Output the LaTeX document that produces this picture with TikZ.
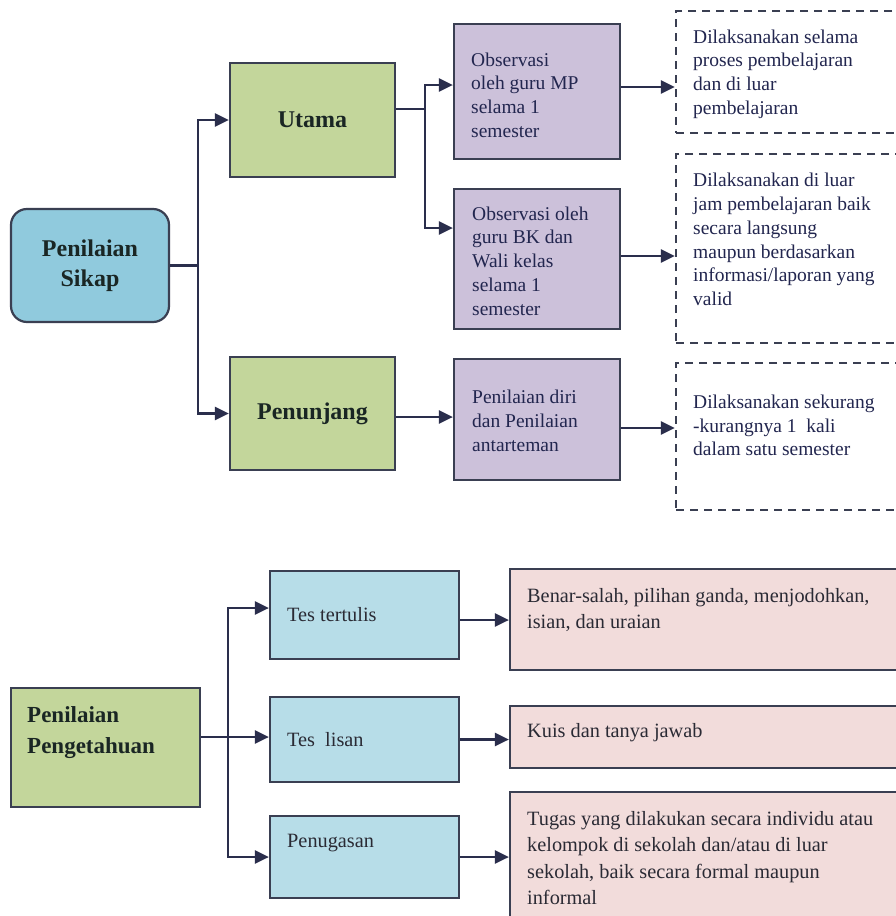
\documentclass[tikz,border=0pt]{standalone}
\usepackage{fontspec}
\setmainfont{Liberation Serif}
\usetikzlibrary{arrows.meta}
\definecolor{sikapblue}{HTML}{90CADD}
\definecolor{boxgreen}{HTML}{C3D69B}
\definecolor{boxpurple}{HTML}{CCC1DA}
\definecolor{boxcyan}{HTML}{B7DDE8}
\definecolor{boxpink}{HTML}{F2DCDB}
\definecolor{edgecol}{HTML}{3A3F52}
\definecolor{wirecol}{HTML}{2A2E4C}
\definecolor{navytext}{HTML}{22264F}
\definecolor{darktext}{HTML}{1A2624}
\definecolor{graytext}{HTML}{2A2A34}
\begin{document}
\begin{tikzpicture}[x=1pt,y=-1pt,
  box/.style={draw=edgecol, line width=2.2pt, inner sep=0pt},
  dbox/.style={draw=edgecol, line width=2.4pt, dash pattern=on 8pt off 6pt, inner sep=0pt},
  boldlbl/.style={font=\fontsize{24}{30}\selectfont\bfseries, text=darktext, align=center},
  toptext/.style={font=\fontsize{19.5}{23.7}\selectfont, text=navytext, align=left, inner sep=0pt, anchor=west},
  bottext/.style={font=\fontsize{20.3}{26.5}\selectfont, text=graytext, align=left, inner sep=0pt, anchor=west},
  arr/.style={draw=wirecol, line width=2.5pt, -{Triangle[length=14pt,width=13pt]}}
]
\useasboundingbox (0,0) rectangle (896,916);
\fill[white] (0,0) rectangle (896,916);

% ---------- top part ----------
\node[box, fill=sikapblue, rounded corners=16pt, minimum width=158pt, minimum height=113pt, boldlbl] (sikap) at (90,265.5) {Penilaian\\Sikap};
\node[box, fill=boxgreen, minimum width=165pt, minimum height=114pt, boldlbl] (utama) at (312.5,120) {Utama};
\node[box, fill=boxgreen, minimum width=165pt, minimum height=113pt, boldlbl] (penunjang) at (312.5,413.5) {Penunjang};

\node[box, fill=boxpurple, minimum width=166pt, minimum height=135pt] (obsmp) at (537,91.5) {};
\node[box, fill=boxpurple, minimum width=166pt, minimum height=140pt] (obsbk) at (537,259) {};
\node[box, fill=boxpurple, minimum width=166pt, minimum height=121pt] (diri) at (537,419.5) {};

\node[toptext] (tmp) at (471,95) {Observasi\\oleh guru MP\\selama 1\\semester};
\node[toptext] (tbk) at (472,261) {Observasi oleh\\guru BK dan\\Wali kelas\\selama 1\\semester};
\node[toptext] (tdiri) at (472,421) {Penilaian diri\\dan Penilaian\\antarteman};

\node[dbox, minimum width=229pt, minimum height=122pt] (d1) at (790.5,72) {};
\node[dbox, minimum width=229pt, minimum height=189pt] (d2) at (790.5,248.5) {};
\node[dbox, minimum width=229pt, minimum height=147pt] (d3) at (790.5,436.5) {};

\node[toptext] (td1) at (693,74) {Dilaksanakan selama\\proses pembelajaran\\dan di luar\\pembelajaran};
\node[toptext] (td2) at (693,239.5) {Dilaksanakan di luar\\jam pembelajaran baik\\secara langsung\\maupun berdasarkan\\informasi/laporan yang\\valid};
\node[toptext] (td3) at (693,425.5) {Dilaksanakan sekurang\\-kurangnya 1~ kali\\dalam satu semester};

\draw[arr] (sikap.east) -- ++(28,0) |- (utama.west);
\draw[arr] (sikap.east) -- ++(28,0) |- (penunjang.west);

\coordinate (u1) at ([yshift=11pt]utama.east);
\draw[arr] (u1) -- ++(29,0) |- ([yshift=6.5pt]obsmp.west);
\draw[arr] (u1) -- ++(29,0) |- ([yshift=31pt]obsbk.west);

\coordinate (pn) at ([yshift=-3.5pt]penunjang.east);
\draw[arr] (pn) -- (pn -| diri.west);

\coordinate (m1) at ([yshift=4.5pt]obsmp.east);
\draw[arr] (m1) -- (m1 -| d1.west);
\coordinate (m2) at ([yshift=3pt]obsbk.east);
\draw[arr] (m2) -- (m2 -| d2.west);
\coordinate (m3) at ([yshift=-8.5pt]diri.east);
\draw[arr] (m3) -- (m3 -| d3.west);

% ---------- bottom part ----------
\node[box, fill=boxgreen, minimum width=189pt, minimum height=119pt] (peng) at (105.5,747.5) {};
\node[font=\fontsize{23}{31}\selectfont\bfseries, text=darktext, align=left, inner sep=0pt, anchor=west] (tpeng) at (27,732.5) {Penilaian\\Pengetahuan};

\node[box, fill=boxcyan, minimum width=189pt, minimum height=88pt] (tertulis) at (364.5,615) {};
\node[box, fill=boxcyan, minimum width=189pt, minimum height=85pt] (lisan) at (364.5,739.5) {};
\node[box, fill=boxcyan, minimum width=189pt, minimum height=82pt] (penugasan) at (364.5,857) {};
\node[bottext] (ttertulis) at (287,615) {Tes tertulis};
\node[bottext] (tlisan) at (287,740) {Tes~ lisan};
\node[bottext] (tpenugasan) at (287,843) {Penugasan};

\node[box, fill=boxpink, minimum width=395pt, minimum height=101pt] (pink1) at (707.5,619.5) {};
\node[box, fill=boxpink, minimum width=395pt, minimum height=62pt] (pink2) at (707.5,737) {};
\node[box, fill=boxpink, minimum width=395pt, minimum height=138pt] (pink3) at (707.5,861) {};
\node[bottext] (tp1) at (527,610) {Benar-salah, pilihan ganda, menjodohkan,\\isian, dan uraian};
\node[bottext] (tp2) at (527,733) {Kuis dan tanya jawab};
\node[bottext] (tp3) at (527,858) {Tugas yang dilakukan secara individu atau\\kelompok di sekolah dan/atau di luar\\sekolah, baik secara formal maupun\\informal};

\coordinate (g1) at ([yshift=10.5pt]peng.east);
\draw[arr] (g1) -- (g1 -| lisan.west);
\draw[arr] (g1) -- ++(27,0) |- ([yshift=7pt]tertulis.west);
\draw[arr] (g1) -- ++(27,0) |- (penugasan.west);

\coordinate (r1) at ([yshift=-5pt]tertulis.east);
\draw[arr] (r1) -- (r1 -| pink1.west);
\draw[arr] (lisan.east) -- (lisan.east -| pink2.west);
\draw[arr] (penugasan.east) -- (penugasan.east -| pink3.west);
\end{tikzpicture}
\end{document}
